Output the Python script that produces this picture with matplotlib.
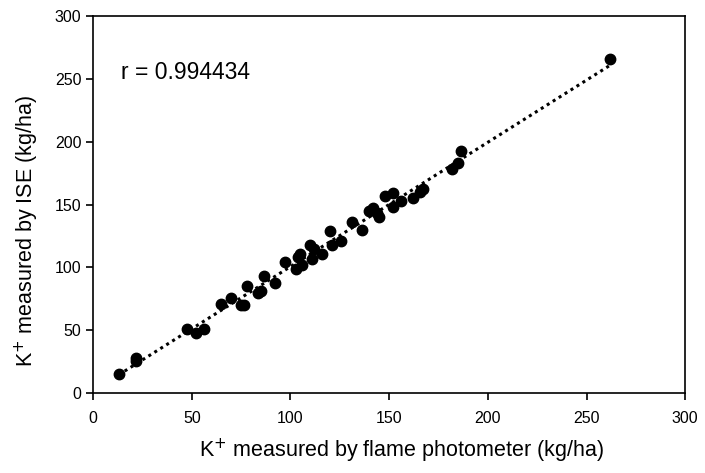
import numpy as np
import matplotlib.pyplot as plt

plt.rcParams['font.family'] = ['Liberation Sans', 'DejaVu Sans']

# K+ by flame photometer (x) and by ISE (y), kg/ha
flame = [13, 21.7, 22, 47.7, 52, 56, 64.6, 70, 74.8, 76.3, 78, 83.6, 85, 86.5,
         92.4, 97, 103, 104, 105, 106, 110, 111, 112, 116, 120, 121, 125.6, 131,
         136, 140, 142, 143.7, 145, 148, 152, 152, 155.8, 162, 165.6, 167, 182,
         184.8, 186.6, 262]
ise = [15, 28, 25.6, 50.6, 48, 50.6, 71, 76, 70, 70, 85, 80, 81.5, 93,
       87.5, 104, 99, 108.6, 111, 102, 118, 107, 115, 111, 129, 118, 121, 136,
       130, 145, 147, 143, 140, 156.6, 159, 148, 152.6, 155, 160, 162.7, 178.5,
       183, 192.5, 266]
r_text = 'r = 0.994434'

x = np.array(flame)
y = np.array(ise)
slope, icpt = np.polyfit(x, y, 1)
xl = np.array([x.min(), x.max()])

fig = plt.figure(figsize=(7.05, 4.73), dpi=100)
ax = fig.add_axes([0.132, 0.169, 0.840, 0.797])

ax.plot(xl, slope * xl + icpt, color='black', linestyle=(0, (1, 1.3)), linewidth=2.2)
ax.plot(x, y, 'o', color='black', markersize=7.5)

ax.set_xlim(0, 300)
ax.set_ylim(0, 300)
ax.set_xticks(range(0, 301, 50))
ax.set_yticks(range(0, 301, 50))
ax.tick_params(direction='out', length=5, width=1.2, labelsize=11.5, colors='black')
ax.tick_params(axis='x', pad=8)
for s in ax.spines.values():
    s.set_linewidth(1.2)

ax.text(14, 255, r_text, fontsize=16.5, va='center')
ax.set_xlabel('K$^{+}$ measured by flame photometer (kg/ha)', fontsize=15.5)
ax.xaxis.set_label_coords(0.52, -0.115)
ax.set_ylabel('K$^{+}$ measured by ISE (kg/ha)', fontsize=15.5)
ax.yaxis.set_label_coords(-0.088, 0.43)

fig.savefig('out.png', dpi=100)
